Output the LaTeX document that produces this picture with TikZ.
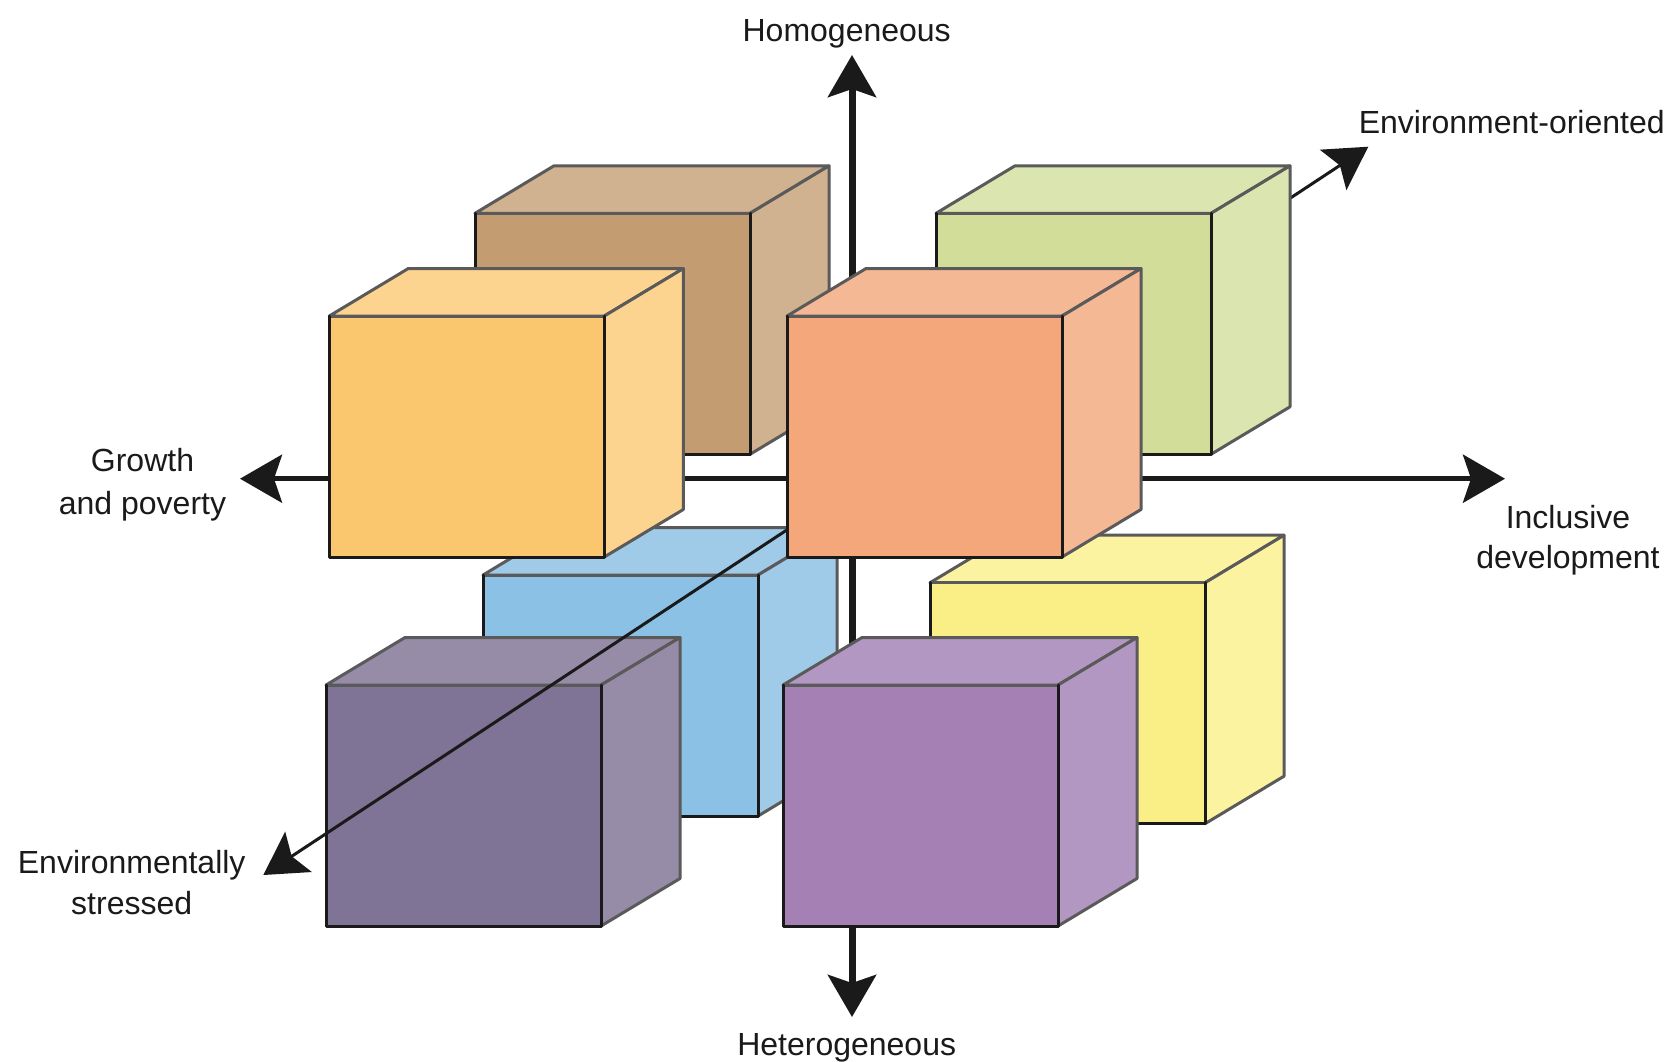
\documentclass[tikz,border=0pt]{standalone}
\usepackage{fontspec}
\setmainfont{Liberation Sans}
\usetikzlibrary{arrows.meta}

% face colours: F = front face, S = top and side faces
\definecolor{brownF}{HTML}{C49C72}  \definecolor{brownS}{HTML}{D0B291}
\definecolor{greenF}{HTML}{D3DD9A}  \definecolor{greenS}{HTML}{DAE5B0}
\definecolor{orangeF}{HTML}{FAC66E} \definecolor{orangeS}{HTML}{FCD38F}
\definecolor{salmonF}{HTML}{F4A77A} \definecolor{salmonS}{HTML}{F5B895}
\definecolor{blueF}{HTML}{8AC1E5}   \definecolor{blueS}{HTML}{9FCBE9}
\definecolor{yellowF}{HTML}{FAEE87} \definecolor{yellowS}{HTML}{FBF3A0}
\definecolor{slateF}{HTML}{7F7495}  \definecolor{slateS}{HTML}{978CA8}
\definecolor{violetF}{HTML}{A480B4} \definecolor{violetS}{HTML}{B397C3}
\definecolor{ink}{HTML}{1A1A1A}
\definecolor{edgegrey}{HTML}{5A5A5A}

\tikzset{
  >={Stealth[length=42pt,width=48pt,inset=8pt]},
  axisline/.style={draw=ink, <->},
  label/.style={text=ink, inner sep=0pt, font=\fontsize{32}{41}\selectfont, align=center},
  backedge/.style={draw=edgegrey, line width=3pt, line join=round},
  frontedge/.style={draw=ink, line width=3pt, line join=round, line cap=round},
}

% one cube: name, front-top-left corner, front colour, top/side colour
\newcommand{\drawcube}[4]{%
  \begin{scope}[shift={#2}]
    \coordinate (#1) at (0,0);
    \filldraw[backedge, fill=#4] (0,0) -- (79,-47.5) -- (354,-47.5) -- (275,0) -- cycle;
    \filldraw[backedge, fill=#4] (275,0) -- (354,-47.5) -- (354,193.5) -- (275,241) -- cycle;
    \fill[#3] (0,0) rectangle (275,241);
    \draw[backedge] (0,0) -- (275,0);
    \draw[frontedge] (0,0) -- (0,241) -- (275,241) -- (275,0);
  \end{scope}}

\begin{document}
\begin{tikzpicture}[x=1pt,y=-1pt]
  \fill[white] (0,0) rectangle (1675,1061);
  \useasboundingbox (0,0) rectangle (1675,1061);

  % axis labels
  \node[label, anchor=base]  (hom) at (846.7,41.7) {Homogeneous};
  \node[label, anchor=base]  (het) at (846.7,1055) {Heterogeneous};
  \node[label, anchor=base]  (envo) at (1511.7,133) {Environment-oriented};
  \node[label, anchor=north, font=\fontsize{32}{43}\selectfont] (grow) at (142.5,448) {Growth\\and poverty};
  \node[label, anchor=north, font=\fontsize{32}{40}\selectfont] (incl) at (1568,505) {Inclusive\\development};
  \node[label, anchor=north] (envs) at (131.7,850) {Environmentally\\stressed};

  % arrow tips of the three axes
  \coordinate (up)    at (852,55);
  \coordinate (down)  at (852,1017);
  \coordinate (left)  at (240,478.7);
  \coordinate (right) at (1505,478.7);
  \coordinate (far)   at (1368.3,146.7);
  \coordinate (near)  at (263.3,875);

  % vertical and horizontal axes, behind every cube
  \draw[axisline, line width=7pt] (up) -- (down);
  \draw[axisline, line width=5pt] (left) -- (right);

  % rear cubes
  \drawcube{brown}{(475,213.3)}{brownF}{brownS}
  \drawcube{blue}{(483,575)}{blueF}{blueS}
  \drawcube{yellow}{(930,582.7)}{yellowF}{yellowS}

  % front cubes on the left and lower right
  \drawcube{orange}{(329.3,316)}{orangeF}{orangeS}
  \drawcube{slate}{(326,685)}{slateF}{slateS}
  \drawcube{violet}{(783,685)}{violetF}{violetS}

  % depth axis
  \draw[axisline, line width=3pt] (near) -- (far);

  % cubes that hide the middle of the depth axis
  \drawcube{green}{(936,213.3)}{greenF}{greenS}
  \drawcube{salmon}{(787,316)}{salmonF}{salmonS}
\end{tikzpicture}
\end{document}
